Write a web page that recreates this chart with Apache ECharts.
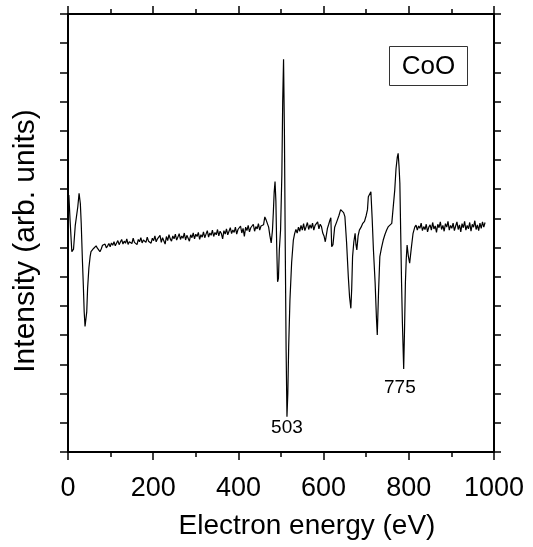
<!DOCTYPE html>
<html lang="en">
<head>
    <meta charset="UTF-8">
    <title>CoO</title>
    <script src="https://cdn.jsdelivr.net/npm/echarts@6/dist/echarts.min.js"></script>
    <style>
        html, body { margin: 0; padding: 0; background: #fff; }
        #main { width: 533px; height: 547px; }
    </style>
</head>
<body>
    <div id="main"></div>
    <script>
        // spectrum: [energy (eV), intensity (arb. units)]
        var lowEnergyPart = [
            [2, 8.80], [5, 7.90], [9, 6.86], [13, 6.95], [17, 7.75], [20, 7.80], [23, 8.40], [26, 8.86],
            [29, 8.50], [31, 7.84], [34, 6.50], [36, 5.70], [38, 4.80], [40, 4.30], [42, 4.25], [44, 4.80],
            [46, 5.60], [49, 6.30], [52, 6.70], [54, 6.86]
        ];
        var backgroundA = [
            [57, 6.88], [60, 6.97], [63, 6.92], [66, 7.06], [69, 6.98], [72, 7.00], [75, 6.86], [78, 6.95],
            [81, 7.08], [84, 7.02], [87, 7.12], [90, 6.99], [93, 7.06], [96, 7.14], [99, 7.03], [102, 7.16],
            [105, 7.08], [108, 7.20], [111, 7.06], [114, 7.12], [117, 7.24], [120, 7.10], [123, 7.19], [126, 7.28],
            [129, 7.12], [132, 7.22], [135, 7.15], [138, 7.30], [141, 7.11], [144, 7.20], [147, 7.26], [150, 7.14],
            [153, 7.32], [156, 7.18], [159, 7.24], [162, 7.10], [165, 7.28], [168, 7.20], [171, 7.34], [174, 7.16],
            [177, 7.26], [180, 7.30], [183, 7.18], [186, 7.36], [189, 7.22], [192, 7.28], [195, 7.15], [198, 7.32],
            [201, 7.24], [204, 7.40], [207, 7.20], [210, 7.30], [213, 7.26], [216, 7.42], [219, 7.18], [222, 7.34],
            [225, 7.28], [228, 7.12], [231, 7.38], [234, 7.24], [237, 7.44], [240, 7.30], [243, 7.22], [246, 7.40],
            [249, 7.30], [252, 7.46], [255, 7.26], [258, 7.36], [261, 7.48], [264, 7.28], [267, 7.40], [270, 7.32],
            [273, 7.50], [276, 7.26], [279, 7.42], [282, 7.36], [285, 7.22], [288, 7.44], [291, 7.34], [294, 7.50],
            [297, 7.30], [300, 7.46], [303, 7.38], [306, 7.52], [309, 7.28], [312, 7.44], [315, 7.36], [318, 7.54],
            [321, 7.34], [324, 7.46], [327, 7.58], [330, 7.36], [333, 7.50], [336, 7.42], [339, 7.60], [342, 7.38],
            [345, 7.52], [348, 7.44], [351, 7.62], [354, 7.40], [357, 7.56], [360, 7.48], [363, 7.30], [366, 7.58],
            [369, 7.46], [372, 7.64], [375, 7.44], [378, 7.56], [381, 7.68], [384, 7.48], [387, 7.60], [390, 7.52],
            [393, 7.70], [396, 7.46], [399, 7.62], [402, 7.56], [405, 7.74], [408, 7.50], [411, 7.66], [414, 7.38],
            [417, 7.70], [420, 7.58], [423, 7.76], [426, 7.54], [429, 7.68], [432, 7.62], [435, 7.80], [438, 7.56],
            [441, 7.72], [444, 7.64], [447, 7.82], [450, 7.60], [453, 7.74], [456, 7.68], [459, 7.78]
        ];
        var coPeakRegion = [
            [462, 8.05], [465, 7.95], [468, 8.00], [471, 7.70], [474, 7.40], [477, 7.16], [480, 7.60], [482, 8.20],
            [484, 8.90], [486, 9.26], [488, 8.60], [490, 7.00], [492, 5.83], [494, 5.95], [496, 6.90], [499, 7.60],
            [502, 9.50], [504, 12.00], [506, 13.45], [508, 11.00], [510, 7.00], [512, 3.50], [514, 1.21], [516, 2.00],
            [518, 3.60], [521, 5.21], [525, 6.50]
        ];
        var backgroundB = [
            [529, 7.26], [532, 7.48], [535, 7.62], [538, 7.50], [541, 7.70], [544, 7.56], [547, 7.76], [550, 7.60],
            [553, 7.82], [556, 7.58], [559, 7.72], [562, 7.86], [565, 7.62], [568, 7.78], [571, 7.66], [574, 7.84],
            [577, 7.60], [580, 7.76], [583, 7.70], [586, 7.88], [589, 7.64], [592, 7.80], [595, 7.72], [598, 7.50],
            [601, 7.40], [604, 7.20], [606, 7.16], [609, 7.66], [612, 7.80], [615, 7.95], [617, 8.02]
        ];
        var cobaltRegion = [
            [619, 7.03], [622, 7.10], [626, 7.70], [631, 7.89], [636, 8.10], [640, 8.30], [643, 8.35], [647, 8.20],
            [650, 8.06], [654, 7.16], [658, 6.00], [661, 5.30], [664, 4.92], [666, 5.60], [668, 6.69], [671, 7.20],
            [674, 7.49], [676, 7.10], [678, 6.92], [681, 7.40], [684, 7.60], [688, 7.70], [692, 7.83], [696, 7.90],
            [700, 8.10], [703, 8.30], [705, 8.74], [708, 8.70], [711, 8.91], [714, 8.00], [717, 6.92], [721, 5.78],
            [724, 4.60], [726, 4.01], [729, 5.50], [732, 6.69], [736, 7.00], [740, 7.26], [744, 7.45], [748, 7.60],
            [752, 7.72], [756, 7.70], [760, 7.83], [764, 7.80], [767, 8.97], [770, 9.70], [773, 10.10], [775, 10.23],
            [777, 9.80], [779, 9.21], [781, 7.50], [783, 5.80], [785, 4.42], [788, 2.84], [790, 4.20], [792, 5.79],
            [794, 6.60], [796, 7.09], [799, 6.70], [802, 6.47], [806, 7.00], [810, 7.49], [814, 7.70]
        ];
        var backgroundC = [
            [817, 7.77], [820, 7.60], [823, 7.74], [826, 7.66], [829, 7.84], [832, 7.58], [835, 7.72], [838, 7.62],
            [841, 7.80], [844, 7.54], [847, 7.70], [850, 7.78], [853, 7.60], [856, 7.86], [859, 7.64], [862, 7.74],
            [865, 7.52], [868, 7.80], [871, 7.68], [874, 7.88], [877, 7.62], [880, 7.76], [883, 7.56], [886, 7.82],
            [889, 7.70], [892, 7.90], [895, 7.60], [898, 7.76], [901, 7.66], [904, 7.84], [907, 7.58], [910, 7.74],
            [913, 7.88], [916, 7.62], [919, 7.78], [922, 7.54], [925, 7.82], [928, 7.68], [931, 7.90], [934, 7.60],
            [937, 7.76], [940, 7.64], [943, 7.86], [946, 7.56], [949, 7.80], [952, 7.70], [955, 7.92], [958, 7.62],
            [961, 7.78], [964, 7.58], [967, 7.84], [970, 7.66], [973, 7.88], [976, 7.70], [979, 7.86]
        ];
        // peak annotations
        var peakNames = ['503', '775'];
        var peakEnergy = [514, 779];
        var peakLevel = [0.82, 2.19];

        var font = 'Liberation Sans, Arial, sans-serif';
        var myChart = echarts.init(document.getElementById('main'));

        var points = [].concat(lowEnergyPart, backgroundA, coPeakRegion, backgroundB, cobaltRegion, backgroundC);
        var marks = [];
        for (var j = 0; j < peakNames.length; j++) {
            marks.push({ name: peakNames[j], coord: [peakEnergy[j], peakLevel[j]] });
        }

        var axisLine = { show: true, onZero: false, lineStyle: { color: '#000', width: 2 } };
        var tickStyle = { color: '#000', width: 1.5 };

        var option = {
            animation: false,
            grid: { left: 68, right: 39, top: 14, bottom: 95 },
            xAxis: [
                {
                    type: 'value', min: 0, max: 1000, interval: 200,
                    position: 'bottom',
                    name: 'Electron energy (eV)', nameLocation: 'middle', nameGap: 60,
                    nameTextStyle: { fontFamily: font, fontSize: 28, color: '#000', padding: [0, 0, 0, 52] },
                    axisLine: axisLine,
                    axisTick: { show: true, length: 8, lineStyle: tickStyle },
                    minorTick: { show: true, splitNumber: 2, length: 5, lineStyle: tickStyle },
                    axisLabel: {
                        fontFamily: font, fontSize: 27, color: '#000', margin: 23,
                        formatter: function (v) { return String(v); }
                    },
                    splitLine: { show: false }
                },
                {
                    type: 'value', min: 0, max: 1000, interval: 200,
                    position: 'top',
                    axisLine: axisLine,
                    axisTick: { show: true, length: 8, lineStyle: tickStyle },
                    minorTick: { show: true, splitNumber: 2, length: 5, lineStyle: tickStyle },
                    axisLabel: { show: false },
                    splitLine: { show: false }
                }
            ],
            yAxis: [
                {
                    type: 'value', min: 0, max: 15, interval: 1,
                    position: 'left',
                    name: 'Intensity (arb. units)', nameLocation: 'middle', nameGap: 27,
                    nameTextStyle: { fontFamily: font, fontSize: 30, color: '#000', padding: [0, 16, 0, 0] },
                    axisLine: axisLine,
                    axisTick: { show: true, length: 8, lineStyle: tickStyle },
                    axisLabel: { show: false },
                    splitLine: { show: false }
                },
                {
                    type: 'value', min: 0, max: 15, interval: 1,
                    position: 'right',
                    axisLine: axisLine,
                    axisTick: { show: true, length: 7, lineStyle: tickStyle },
                    axisLabel: { show: false },
                    splitLine: { show: false }
                }
            ],
            graphic: [
                {
                    type: 'group', left: 389, top: 46,
                    children: [
                        { type: 'rect', shape: { x: 0, y: 0, width: 78, height: 39 },
                          style: { fill: '#fff', stroke: '#333', lineWidth: 1 } },
                        { type: 'text', x: 39, y: 20,
                          style: { text: 'CoO', fontFamily: font, fontSize: 26, fill: '#000',
                                   align: 'center', verticalAlign: 'middle' } }
                    ]
                }
            ],
            series: [
                {
                    type: 'line',
                    data: points,
                    showSymbol: false,
                    lineStyle: { color: '#000', width: 1.2 },
                    markPoint: {
                        symbol: 'circle', symbolSize: 1,
                        itemStyle: { color: 'rgba(0,0,0,0)' },
                        label: {
                            show: true, position: 'inside', formatter: '{b}',
                            fontFamily: font, fontSize: 19, color: '#000'
                        },
                        data: marks
                    }
                }
            ]
        };

        myChart.setOption(option);
    </script>
</body>
</html>
